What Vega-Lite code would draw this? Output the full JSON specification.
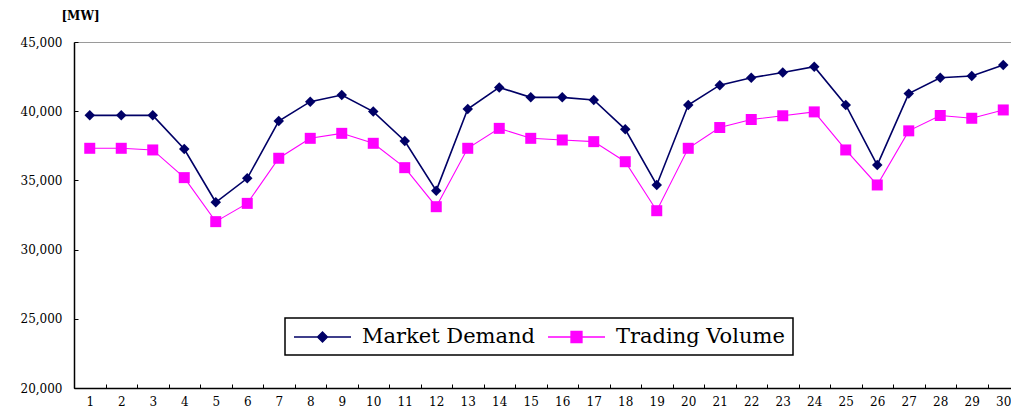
{
  "$schema": "https://vega.github.io/schema/vega-lite/v6.json",
  "width": 945,
  "height": 346,
  "autosize": "none",
  "padding": {"left": 74, "top": 42, "right": 0, "bottom": 31},
  "background": "white",
  "config": {
    "view": {"stroke": "#9a9a9a", "strokeWidth": 1},
    "axis": {"grid": false, "domainColor": "black", "domainWidth": 1.5, "tickColor": "black", "labelColor": "black", "labelFont": "DejaVu Serif", "labelFontSize": 12}
  },
  "data": {
    "values": [
      {"day": 1, "series": "Market Demand", "value": 39700},
      {"day": 2, "series": "Market Demand", "value": 39700},
      {"day": 3, "series": "Market Demand", "value": 39700},
      {"day": 4, "series": "Market Demand", "value": 37270},
      {"day": 5, "series": "Market Demand", "value": 33420},
      {"day": 6, "series": "Market Demand", "value": 35150},
      {"day": 7, "series": "Market Demand", "value": 39290},
      {"day": 8, "series": "Market Demand", "value": 40690},
      {"day": 9, "series": "Market Demand", "value": 41170},
      {"day": 10, "series": "Market Demand", "value": 39970},
      {"day": 11, "series": "Market Demand", "value": 37850},
      {"day": 12, "series": "Market Demand", "value": 34260},
      {"day": 13, "series": "Market Demand", "value": 40160},
      {"day": 14, "series": "Market Demand", "value": 41720},
      {"day": 15, "series": "Market Demand", "value": 41000},
      {"day": 16, "series": "Market Demand", "value": 41000},
      {"day": 17, "series": "Market Demand", "value": 40810},
      {"day": 18, "series": "Market Demand", "value": 38690},
      {"day": 19, "series": "Market Demand", "value": 34670},
      {"day": 20, "series": "Market Demand", "value": 40450},
      {"day": 21, "series": "Market Demand", "value": 41880},
      {"day": 22, "series": "Market Demand", "value": 42420},
      {"day": 23, "series": "Market Demand", "value": 42790},
      {"day": 24, "series": "Market Demand", "value": 43220},
      {"day": 25, "series": "Market Demand", "value": 40450},
      {"day": 26, "series": "Market Demand", "value": 36110},
      {"day": 27, "series": "Market Demand", "value": 41270},
      {"day": 28, "series": "Market Demand", "value": 42420},
      {"day": 29, "series": "Market Demand", "value": 42540},
      {"day": 30, "series": "Market Demand", "value": 43340},
      {"day": 1, "series": "Trading Volume", "value": 37320},
      {"day": 2, "series": "Trading Volume", "value": 37320},
      {"day": 3, "series": "Trading Volume", "value": 37200},
      {"day": 4, "series": "Trading Volume", "value": 35200},
      {"day": 5, "series": "Trading Volume", "value": 32020},
      {"day": 6, "series": "Trading Volume", "value": 33340},
      {"day": 7, "series": "Trading Volume", "value": 36600},
      {"day": 8, "series": "Trading Volume", "value": 38040},
      {"day": 9, "series": "Trading Volume", "value": 38400},
      {"day": 10, "series": "Trading Volume", "value": 37680},
      {"day": 11, "series": "Trading Volume", "value": 35920},
      {"day": 12, "series": "Trading Volume", "value": 33100},
      {"day": 13, "series": "Trading Volume", "value": 37320},
      {"day": 14, "series": "Trading Volume", "value": 38760},
      {"day": 15, "series": "Trading Volume", "value": 38040},
      {"day": 16, "series": "Trading Volume", "value": 37920},
      {"day": 17, "series": "Trading Volume", "value": 37800},
      {"day": 18, "series": "Trading Volume", "value": 36350},
      {"day": 19, "series": "Trading Volume", "value": 32810},
      {"day": 20, "series": "Trading Volume", "value": 37320},
      {"day": 21, "series": "Trading Volume", "value": 38820},
      {"day": 22, "series": "Trading Volume", "value": 39400},
      {"day": 23, "series": "Trading Volume", "value": 39670},
      {"day": 24, "series": "Trading Volume", "value": 39950},
      {"day": 25, "series": "Trading Volume", "value": 37200},
      {"day": 26, "series": "Trading Volume", "value": 34670},
      {"day": 27, "series": "Trading Volume", "value": 38580},
      {"day": 28, "series": "Trading Volume", "value": 39690},
      {"day": 29, "series": "Trading Volume", "value": 39490},
      {"day": 30, "series": "Trading Volume", "value": 40090}
    ]
  },
  "encoding": {
    "x": {
      "field": "day",
      "type": "ordinal",
      "scale": {"type": "band", "paddingInner": 0, "paddingOuter": 0},
      "axis": {"title": null, "labelAngle": 0, "tickBand": "extent", "tickSize": -4, "labelPadding": 12}
    },
    "y": {
      "field": "value",
      "type": "quantitative",
      "scale": {"domain": [20000, 45000], "nice": false, "zero": false},
      "axis": {
        "values": [20000, 25000, 30000, 35000, 40000, 45000],
        "format": ",.0f",
        "title": "[MW]",
        "titleAngle": 0,
        "titleX": 6,
        "titleY": -27,
        "titleAlign": "center",
        "titleBaseline": "middle",
        "titleFont": "DejaVu Serif",
        "titleFontWeight": "bold",
        "titleFontSize": 12,
        "titleColor": "black",
        "tickSize": -4,
        "labelPadding": 16
      }
    },
    "color": {
      "field": "series",
      "type": "nominal",
      "scale": {"domain": ["Market Demand", "Trading Volume"], "range": ["#000066", "#ff00ff"]},
      "legend": {
        "orient": "none",
        "legendX": 211,
        "legendY": 276,
        "direction": "horizontal",
        "title": null,
        "strokeColor": "black",
        "fillColor": "white",
        "padding": 8,
        "labelFont": "DejaVu Serif",
        "labelFontSize": 21,
        "labelColor": "black",
        "labelLimit": 400,
        "symbolSize": 400,
        "symbolOffset": 18.5,
        "labelOffset": 28.5,
        "columnPadding": 10,
        "encode": {
          "legend": {"update": {"strokeWidth": {"value": 1.5}}},
          "symbols": {
            "update": {
              "shape": {"signal": "datum.value === 'Market Demand' ? 'M-2.85,0H2.85M-0.5,0L0,-0.5L0.5,0L0,0.5Z' : 'M-2.85,0H2.85M-0.55,-0.55H0.55V0.55H-0.55Z'"},
              "fill": {"signal": "datum.value === 'Market Demand' ? '#000066' : '#ff00ff'"},
              "stroke": {"signal": "datum.value === 'Market Demand' ? '#000066' : '#ff00ff'"},
              "size": {"value": 400},
              "strokeWidth": {"value": 1.3},
              "opacity": {"value": 1}
            }
          }
        }
      }
    }
  },
  "layer": [
    {
      "mark": {"type": "line"},
      "encoding": {
        "strokeWidth": {"field": "series", "type": "nominal", "scale": {"domain": ["Trading Volume", "Market Demand"], "range": [1.1, 1.6]}, "legend": null}
      }
    },
    {
      "mark": {"type": "point", "filled": true, "opacity": 1},
      "encoding": {
        "shape": {"field": "series", "type": "nominal", "scale": {"domain": ["Trading Volume", "Market Demand"], "range": ["square", "diamond"]}, "legend": null},
        "size": {"field": "series", "type": "nominal", "scale": {"domain": ["Trading Volume", "Market Demand"], "range": [121, 110]}, "legend": null}
      }
    }
  ]
}
